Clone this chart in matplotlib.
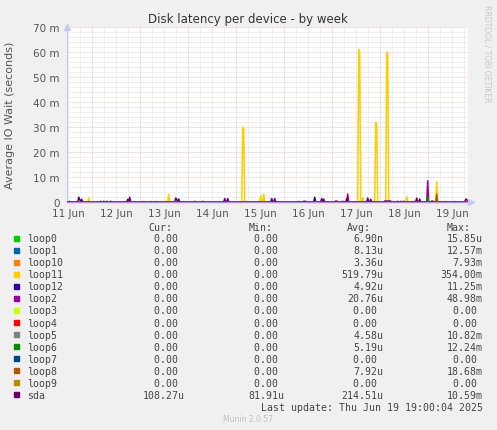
import numpy as np
import matplotlib
matplotlib.use("Agg")
import matplotlib.pyplot as plt
from matplotlib.patches import Rectangle

# ---- data (days since 11 Jun 00:00, values in milliseconds) ----
names = ["loop0", "loop1", "loop10", "loop11", "loop12", "loop2", "loop3",
         "loop4", "loop5", "loop6", "loop7", "loop8", "loop9", "sda"]
colors = ["#00CC00", "#0066B3", "#FF8000", "#FFCC00", "#330099", "#990099",
          "#CCFF00", "#FF0000", "#808080", "#008F00", "#00487D", "#B35A00",
          "#B38F00", "#6B006B"]

cur_txt = ["0.00 "] * 13 + ["108.27u"]
min_txt = ["0.00 "] * 13 + ["81.91u"]
avg_txt = ["6.90n", "8.13u", "3.36u", "519.79u", "4.92u", "20.76u", "0.00 ",
           "0.00 ", "4.58u", "5.19u", "0.00 ", "7.92u", "0.00 ", "214.51u"]
max_txt = ["15.85u", "12.57m", "7.93m", "354.00m", "11.25m", "48.98m", "0.00 ",
           "0.00 ", "10.82m", "12.24m", "0.00 ", "18.68m", "0.00 ", "10.59m"]

loop11_days = [0.925, 2.592, 4.129, 4.150, 4.515, 4.577, 6.542, 6.563, 6.625,
               6.904, 6.925, 7.140, 7.161, 7.556, 7.708, 8.171]
loop11_vals = [1.8, 3.3, 30.0, 29.0, 2.7, 3.2, 61.0, 60.0, 1.8,
               32.0, 31.0, 60.0, 59.0, 2.3, 0.8, 8.2]
loop12_days = [5.625]
loop12_vals = [2.0]
loop2_days = [6.321, 7.979]
loop2_vals = [3.3, 8.6]
loop6_days = [7.979]
loop6_vals = [2.0]
loop8_days = [8.171]
loop8_vals = [3.3]
loop10_days = [8.150]
loop10_vals = [1.0]
sda_base = 0.1
sda_days = [0.525, 0.723, 0.744, 0.785, 1.171, 1.244, 1.306, 1.379, 1.744,
            1.785, 2.077, 2.223, 2.327, 2.744, 2.765, 2.806, 3.125, 3.300,
            3.765, 3.827, 4.744, 4.806, 5.292, 5.410, 5.431, 5.452, 5.785,
            5.827, 6.077, 6.098, 6.217, 6.300, 6.744, 6.806, 7.100, 7.120,
            7.140, 7.161, 7.182, 7.203, 7.224, 7.369, 7.431, 7.494, 7.675,
            7.765, 7.817, 8.077, 8.098, 8.369, 8.542, 8.775, 8.800]
sda_vals = [0.4, 2.0, 1.2, 1.2, 0.4, 0.4, 0.4, 0.4, 1.2,
            2.0, 0.3, 0.3, 0.3, 1.7, 1.0, 1.3, 0.4, 0.4,
            1.5, 1.5, 1.5, 1.5, 0.3, 0.4, 0.4, 0.4, 1.5,
            1.3, 0.5, 0.5, 0.4, 1.5, 1.7, 1.2, 0.5, 0.5,
            0.5, 0.5, 0.5, 0.5, 0.5, 0.4, 0.4, 0.4, 0.3,
            1.7, 1.3, 0.5, 0.5, 0.3, 0.3, 1.2, 1.2]

day_labels = ["11 Jun", "12 Jun", "13 Jun", "14 Jun", "15 Jun",
              "16 Jun", "17 Jun", "18 Jun", "19 Jun"]

W, H = 497, 431
t_start, t_end = 0.467, 8.827
step = 1 / 48.0  # 30 minute samples
t = np.arange(t_start, t_end + step, step)


def series(days, vals, base=0.0):
    y = np.full(len(t), base)
    for d, v in zip(days, vals):
        y[int(round((d - t_start) / step))] = v
    return y


data = {n: np.zeros(len(t)) for n in names}
data["loop11"] = series(loop11_days, loop11_vals)
data["loop12"] = series(loop12_days, loop12_vals)
data["loop2"] = series(loop2_days, loop2_vals)
data["loop6"] = series(loop6_days, loop6_vals)
data["loop8"] = series(loop8_days, loop8_vals)
data["loop10"] = series(loop10_days, loop10_vals)
data["sda"] = series(sda_days, sda_vals, sda_base)


def fx(px):
    return px / W


def fy(py):
    return 1 - py / H


fig = plt.figure(figsize=(W / 100, H / 100), dpi=100, facecolor="#F0F0F0")
left, right, top, bottom = 66.7, 468.0, 28.3, 203.3
ax = fig.add_axes([fx(left), fy(bottom), fx(right) - fx(left), (bottom - top) / H])
ax.set_facecolor("white")

# grid, rrdtool style dotted
dots = (0, (1, 1))
for yv in np.arange(2, 71, 2):
    c = "#F2C4C4" if yv % 10 == 0 else "#E2E2E2"
    ax.axhline(yv, color=c, lw=0.72, ls=dots, zorder=1)
for xv in np.arange(0.5, 8.9, 0.25):
    c = "#F2C4C4" if abs(xv - round(xv)) < 1e-6 else "#E2E2E2"
    ax.axvline(xv, color=c, lw=0.72, ls=dots, zorder=1)

for n, c in zip(names, colors):
    ax.plot(t, data[n], color=c, lw=1.1, zorder=3)

ax.set_xlim(t_start, t_end)
ax.set_ylim(0, 70)
ax.set_yticks(np.arange(0, 71, 10))
ax.set_yticklabels(["0"] + [f"{v} m" for v in range(10, 71, 10)])
ax.set_xticks(np.arange(0.5, 9, 1))
ax.set_xticklabels(day_labels)
ax.tick_params(length=0, labelsize=7.5, colors="#555555", pad=5)
ax.tick_params(axis="x", pad=4)
for s in ["top", "right"]:
    ax.spines[s].set_visible(False)
ax.spines["left"].set_color("#C8C8F8")
ax.spines["left"].set_linewidth(0.8)
ax.spines["bottom"].set_color("#B490D8")
ax.spines["bottom"].set_linewidth(1.0)
ax.spines["bottom"].set_zorder(4)
ax.plot([0], [1.0], marker="^", ms=4, color="#C8C8F8", transform=ax.transAxes,
        clip_on=False, zorder=5)
ax.plot([1.008], [0], marker=">", ms=4, color="#C8C8F8", transform=ax.transAxes,
        clip_on=False, zorder=5)

fig.text(fx(248), fy(19), "Disk latency per device - by week", ha="center",
         va="center", fontsize=8.5, color="#333333")
fig.text(fx(10), fy(115), "Average IO Wait (seconds)", rotation=90, ha="center",
         va="center", fontsize=8, color="#555555")
fig.text(fx(487), fy(5), "RRDTOOL / TOBI OETIKER", rotation=270, ha="center",
         va="top", fontsize=5.5, color="#C8C8C8")

# legend table
mono = dict(family="DejaVu Sans Mono", fontsize=7.1, color="#444444")
col_right = [184.3, 284.3, 383.3, 482.7]
for xr, h in zip(col_right, ["Cur:", "Min:", "Avg:", "Max:"]):
    fig.text(fx(xr - 12), fy(228.3), h, ha="right", va="center", **mono)
for i, n in enumerate(names):
    yy = 239.3 + i * 12.03
    fig.patches.append(Rectangle((fx(14), fy(yy + 2.5)), 5 / W, 5 / H,
                                 transform=fig.transFigure, color=colors[i]))
    fig.text(fx(26.7), fy(yy), n, ha="left", va="center", **mono)
    for xr, col in zip(col_right, [cur_txt, min_txt, avg_txt, max_txt]):
        fig.text(fx(xr), fy(yy), col[i], ha="right", va="center", **mono)
fig.text(fx(482.7), fy(407.7), "Last update: Thu Jun 19 19:00:04 2025",
         ha="right", va="center", **mono)
fig.text(fx(248), fy(420), "Munin 2.0.57", ha="center", va="center",
         fontsize=5.5, color="#C0C0C0")

fig.savefig("out.png", dpi=100, facecolor=fig.get_facecolor())
